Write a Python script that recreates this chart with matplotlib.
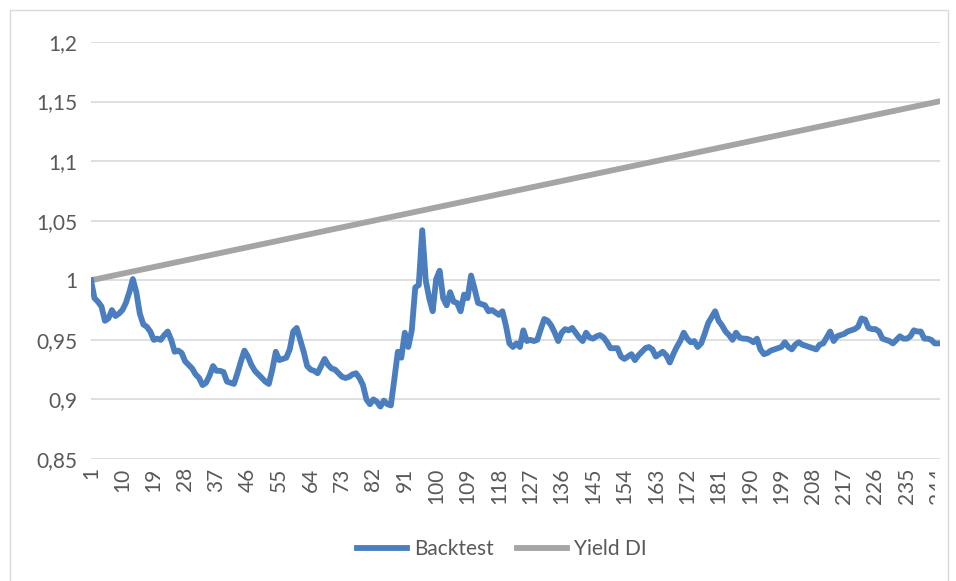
import matplotlib
matplotlib.use('Agg')
import matplotlib.pyplot as plt
from matplotlib.patches import Rectangle
from matplotlib.transforms import Bbox

plt.rcParams['font.family'] = ['Lato', 'DejaVu Sans']

# valores (indice 1..244)
backtest = [
    1.000, 0.985, 0.982, 0.978, 0.966, 0.968, 0.975, 0.970, 0.972, 0.975,
    0.981, 0.990, 1.001, 0.990, 0.972, 0.963, 0.961, 0.957, 0.950, 0.951,
    0.950, 0.954, 0.957, 0.950, 0.940, 0.941, 0.939, 0.932, 0.929, 0.926,
    0.921, 0.918, 0.912, 0.914, 0.920, 0.928, 0.924, 0.924, 0.923, 0.915,
    0.914, 0.913, 0.922, 0.932, 0.941, 0.936, 0.929, 0.924, 0.921, 0.918,
    0.915, 0.913, 0.925, 0.940, 0.933, 0.934, 0.935, 0.942, 0.957, 0.960,
    0.950, 0.940, 0.928, 0.925, 0.924, 0.922, 0.928, 0.934, 0.929, 0.926,
    0.925, 0.922, 0.919, 0.918, 0.919, 0.921, 0.922, 0.918, 0.912, 0.900,
    0.896, 0.900, 0.898, 0.894, 0.899, 0.896, 0.895, 0.917, 0.940, 0.935,
    0.956, 0.944, 0.958, 0.994, 0.996, 1.042, 1.000, 0.985, 0.974, 1.001,
    1.008, 0.985, 0.979, 0.990, 0.982, 0.981, 0.974, 0.988, 0.985, 1.004,
    0.993, 0.981, 0.980, 0.979, 0.974, 0.975, 0.973, 0.971, 0.974, 0.962,
    0.947, 0.944, 0.947, 0.944, 0.958, 0.949, 0.950, 0.949, 0.950, 0.959,
    0.9675, 0.966, 0.962, 0.956, 0.949, 0.956, 0.959, 0.958, 0.960, 0.956,
    0.952, 0.949, 0.956, 0.952, 0.951, 0.953, 0.954, 0.952, 0.948, 0.943,
    0.943, 0.943, 0.936, 0.934, 0.936, 0.938, 0.933, 0.937, 0.940, 0.943,
    0.944, 0.942, 0.936, 0.938, 0.940, 0.937, 0.931, 0.938, 0.944, 0.949,
    0.956, 0.951, 0.948, 0.949, 0.944, 0.947, 0.955, 0.964, 0.969, 0.974,
    0.966, 0.962, 0.957, 0.954, 0.950, 0.956, 0.952, 0.951, 0.951, 0.950,
    0.948, 0.951, 0.942, 0.938, 0.939, 0.941, 0.942, 0.943, 0.944, 0.948,
    0.944, 0.942, 0.946, 0.948, 0.946, 0.945, 0.944, 0.943, 0.942, 0.946,
    0.947, 0.952, 0.957, 0.949, 0.953, 0.954, 0.955, 0.957, 0.958, 0.959,
    0.961, 0.968, 0.967, 0.960, 0.959, 0.959, 0.957, 0.951, 0.950, 0.949,
    0.947, 0.950, 0.953, 0.951, 0.951, 0.953, 0.958, 0.957, 0.957, 0.951,
    0.951, 0.950, 0.947, 0.947,
]
periodos = list(range(1, len(backtest) + 1))

# Yield DI: reta do inicio ao fim
yield_x = [1, 244]
yield_y = [1.0, 1.15]

y_ticks = [0.85, 0.9, 0.95, 1.0, 1.05, 1.1, 1.15, 1.2]
y_labels = ['0,85', '0,9', '0,95', '1', '1,05', '1,1', '1,15', '1,2']
x_ticks = list(range(1, 245, 9))

fig = plt.figure(figsize=(9.56, 5.81), dpi=100)
ax = fig.add_axes([91 / 956, 1 - 459 / 581, (940 - 91) / 956, (459 - 42) / 581])

# borda da area do grafico
fig.patches.append(Rectangle((10 / 956, -0.01), 938 / 956, 1 - 10 / 581 + 0.01,
                             transform=fig.transFigure, fill=False,
                             edgecolor='#d9d9d9', linewidth=1))

ax.plot(periodos, backtest, color='#4a7ebf', linewidth=4.2, label='Backtest',
        solid_joinstyle='round', zorder=3)
ax.plot(yield_x, yield_y, color='#a5a5a5', linewidth=4.2, label='Yield DI', zorder=2)

ax.set_xlim(1, 244.5)
ax.set_ylim(0.85, 1.2)
ax.set_yticks(y_ticks)
ax.set_yticklabels(y_labels)
ax.set_xticks(x_ticks)
ax.set_xticklabels([str(t) for t in x_ticks], rotation=90)

ax.grid(axis='y', color='#d9d9d9', linewidth=1.2)
ax.set_axisbelow(True)
for s in ax.spines.values():
    s.set_visible(False)
ax.tick_params(axis='both', length=0, labelsize=15, colors='#595959')
ax.tick_params(axis='y', pad=10)
ax.tick_params(axis='x', pad=6)

# ultimo rotulo cortado como no original
fig.canvas.draw()
ultimo = ax.xaxis.get_major_ticks()[-1].label1
ultimo.set_clip_box(Bbox.from_extents(0, 0, 935, 581))
ultimo.set_clip_on(True)

fig.legend(loc='center', bbox_to_anchor=(502 / 956, 1 - 549 / 581), ncol=2,
           frameon=False, fontsize=15, labelcolor='#595959',
           handlelength=2.4, handletextpad=0.35, columnspacing=1.1)

fig.savefig('out.png', dpi=100)
